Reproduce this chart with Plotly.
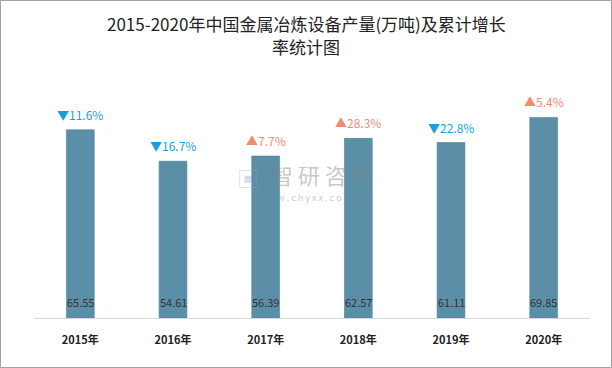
import plotly.graph_objects as go

years = ["2015年", "2016年", "2017年", "2018年", "2019年", "2020年"]
output = [65.55, 54.61, 56.39, 62.57, 61.11, 69.85]
growth = [11.6, 16.7, 7.7, 28.3, 22.8, 5.4]
direction = ["down", "down", "up", "up", "down", "up"]
title_lines = ["2015-2020年中国金属冶炼设备产量(万吨)及累计增长", "率统计图"]

FONT = "Noto Sans CJK SC"
BLUE = "#1a9ee2"
SALMON = "#f08c72"

# plot area geometry (pixels)
L, R, T, B = 34, 22, 90, 50
PW, PH = 612 - L - R, 368 - T - B

def px_x(p):
    return (p - L) / PW

def px_y(p):
    return (368 - B - p) / PH

fig = go.Figure()
fig.add_trace(go.Bar(
    x=years, y=output, width=0.3,
    marker=dict(color="#5b8fa8", line=dict(color="#4d8199", width=0.6)),
    textposition="none", hoverinfo="skip",
))

for yr, v, g, d in zip(years, output, growth, direction):
    sym = "▼" if d == "down" else "▲"
    col = BLUE if d == "down" else SALMON
    fig.add_annotation(x=yr, y=v, text=f"{sym}{g}%", showarrow=False,
                       yanchor="bottom", yshift=5,
                       font=dict(family=FONT, size=12, color=col))
    fig.add_annotation(x=yr, y=0, text=f"{v:.2f}", showarrow=False,
                       yanchor="bottom", yshift=6,
                       font=dict(family=FONT, size=11, color="#333333"))

# title (two lines)
for line, py in zip(title_lines, [23, 46]):
    fig.add_annotation(xref="paper", yref="paper", x=px_x(306), y=px_y(py),
                       text=line, showarrow=False, xanchor="center", yanchor="middle",
                       font=dict(family=FONT, size=17, color="#222222"))

# watermark
WM = "rgba(130,130,130,0.45)"
fig.add_annotation(xref="paper", yref="paper", x=px_x(322), y=px_y(174), text="智 研 咨 询",
                   showarrow=False, font=dict(family=FONT, size=22, color=WM))
fig.add_annotation(xref="paper", yref="paper", x=px_x(305), y=px_y(197), text="w w w . c h y x x . c o m",
                   showarrow=False, font=dict(family=FONT, size=9, color=WM))
fig.add_annotation(xref="paper", yref="paper", x=px_x(248), y=px_y(177), text="▣",
                   showarrow=False, font=dict(family=FONT, size=22, color="rgba(140,165,205,0.4)"))

# outer border
fig.add_shape(type="rect", xref="paper", yref="paper",
              x0=px_x(0.5), x1=px_x(611.5), y0=px_y(367.5), y1=px_y(0.5),
              line=dict(color="#a0a0a0", width=1), fillcolor="rgba(0,0,0,0)")

fig.update_layout(
    width=612, height=368,
    margin=dict(l=L, r=R, t=T, b=B),
    paper_bgcolor="white", plot_bgcolor="white",
    showlegend=False,
    xaxis=dict(showline=True, linecolor="#d9d9d9", linewidth=1, ticks="",
               ticklabelstandoff=12,
               tickfont=dict(family=FONT, size=11, color="#222222", weight="bold")),
    yaxis=dict(range=[0, 79.4], visible=False, showgrid=False),
)

fig.write_html("out.html", config={"displayModeBar": False})
with open("out.html", encoding="utf-8") as f:
    html = f.read()
html = html.replace("<body>", '<body style="margin:0;padding:0;overflow:hidden">', 1)
with open("out.html", "w", encoding="utf-8") as f:
    f.write(html)
